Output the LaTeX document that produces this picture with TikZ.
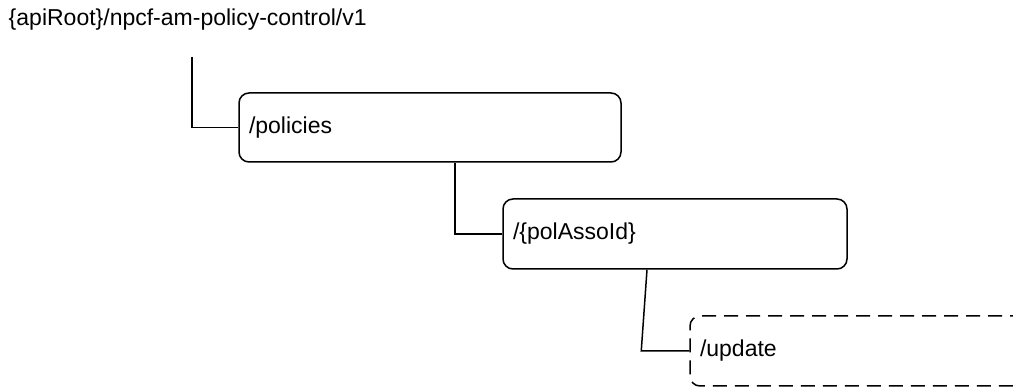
\documentclass[tikz,border=0pt]{standalone}
\usepackage{fontspec}
\setmainfont{Liberation Sans}
\usetikzlibrary{calc}

\begin{document}
\begin{tikzpicture}[x=1pt,y=1pt,line width=1.5pt]
    \tikzstyle{every node}=[font=\fontsize{23}{27}\selectfont]
    \tikzstyle{res}=[draw=black,rounded corners=10pt,minimum height=70pt,inner xsep=10pt,text height=17pt,text depth=5pt,align=left]
    \tikzstyle{dres}=[res,dash pattern=on 14pt off 8pt]

    \path[use as bounding box] (0,0) rectangle (1013,387);
    \clip (0,0) rectangle (1013,387);

    \node[anchor=base west,inner sep=0pt] (root) at (8,361) {\{apiRoot\}/npcf-am-policy-control/v1};
    \node[res,text width=362pt,minimum height=69pt] (policies) at (430,259.5) {/policies};
    \node[res,text width=324pt] (assoid) at (675,153) {/\{polAssoId\}};
    \node[dres,text width=390pt] (update) at (895,36) {/update};

    \coordinate (rootend) at ([xshift=184pt,yshift=-31pt]root.base west);
    \draw (rootend) |- (policies.west);
    \draw ([xshift=25pt]policies.south) |- (assoid.west);
    \draw ([xshift=-28pt]assoid.south) -- ($(update.west)+(-48,0)$) -- (update.west);
\end{tikzpicture}
\end{document}
